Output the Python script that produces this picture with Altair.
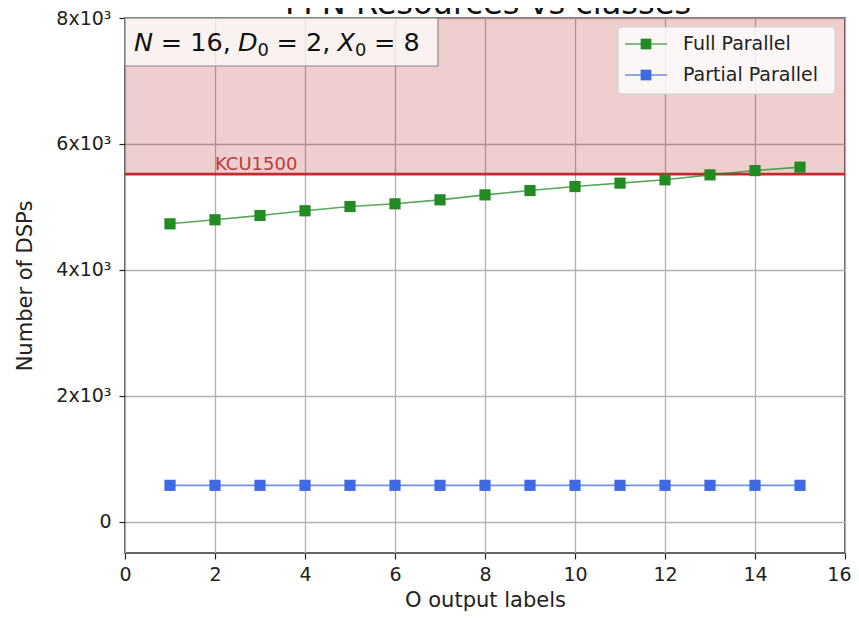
import altair as alt
import pandas as pd

# ---------------- data ----------------
o_labels = [1, 2, 3, 4, 5, 6, 7, 8, 9, 10, 11, 12, 13, 14, 15]
full_parallel = [4730, 4794, 4862, 4937, 5005, 5048, 5111, 5190, 5259, 5322, 5376, 5429, 5508, 5576, 5630]
partial_parallel = [575, 575, 575, 575, 575, 575, 575, 575, 575, 575, 575, 575, 575, 575, 575]
series_names = ["Full Parallel", "Partial Parallel"]
series_colors = ["#228b22", "#4169e1"]
kcu_limit = 5520
kcu_label = "KCU1500"
kcu_label_x = 2
y_domain = [-500, 8000]
x_domain = [0, 16]
x_ticks = [0, 2, 4, 6, 8, 10, 12, 14, 16]
y_ticks = [0, 2000, 4000, 6000, 8000]
title_text = "FFN Resources vs classes"
x_title = "O output labels"
y_title = "Number of DSPs"

# ---------------- layout ----------------
W, H = 720, 535
FONT = "DejaVu Sans"
TXT = "#222222"

df = pd.DataFrame({
    "O": o_labels + o_labels,
    "dsp": full_parallel + partial_parallel,
    "series": [series_names[0]] * len(o_labels) + [series_names[1]] * len(o_labels),
})

xs = alt.Scale(domain=x_domain, nice=False, zero=False)
ys = alt.Scale(domain=y_domain, nice=False, zero=False)

x_axis = alt.Axis(values=x_ticks, title=x_title, grid=True, gridColor="#b0b0b0", gridWidth=1.3,
                  domain=False, ticks=True, tickSize=6, tickColor=TXT, tickWidth=1.2,
                  labelFontSize=19, labelFont=FONT, labelColor=TXT, labelPadding=6,
                  labelAlign={"condition": {"test": "datum.value == 16", "value": "right"}, "value": "center"},
                  labelOffset={"condition": {"test": "datum.value == 16", "value": 6}, "value": 0},
                  titleFontSize=21, titleFont=FONT, titleColor=TXT, titleFontWeight="normal",
                  titlePadding=5, labelFlush=False)
y_axis = alt.Axis(values=y_ticks, title=y_title, grid=True, gridColor="#b0b0b0", gridWidth=1.3,
                  domain=False, ticks=True, tickSize=6, tickColor=TXT, tickWidth=1.2,
                  labelFontSize=19, labelFont=FONT, labelColor=TXT, labelPadding=8,
                  labelExpr="datum.value == 0 ? '0' : (datum.value / 1000) + 'x10\u00b3'",
                  titleFontSize=21, titleFont=FONT, titleColor=TXT, titleFontWeight="normal",
                  titlePadding=20, labelFlush=False)

color = alt.Color("series:N", scale=alt.Scale(domain=series_names, range=series_colors), legend=None)

span_df = pd.DataFrame({"lo": [kcu_limit], "hi": [y_domain[1]]})
label_df = pd.DataFrame({"x": [kcu_label_x], "lo": [kcu_limit], "label": [kcu_label]})
one = pd.DataFrame({"a": [0]})

shade = alt.Chart(span_df).mark_rect(color="#b22222", opacity=0.22).encode(
    x=alt.value(0), x2=alt.value(W),
    y=alt.Y("lo:Q", scale=ys, axis=y_axis), y2="hi:Q")

kline = alt.Chart(span_df).mark_rule(color="#c8282d", strokeWidth=2.6).encode(
    y=alt.Y("lo:Q", scale=ys, axis=y_axis))

ktext = alt.Chart(label_df).mark_text(align="left", baseline="alphabetic", dy=-4, fontSize=18,
                                      font=FONT, color="#c0393b").encode(
    x=alt.X("x:Q", scale=xs, axis=x_axis), y=alt.Y("lo:Q", scale=ys, axis=y_axis), text="label:N")

lines = alt.Chart(df).mark_line(strokeWidth=1.6, opacity=0.75).encode(
    x=alt.X("O:Q", scale=xs, axis=x_axis), y=alt.Y("dsp:Q", scale=ys, axis=y_axis), color=color,
    detail="series:N")

points = alt.Chart(df).mark_square(size=125, opacity=1, filled=True).encode(
    x=alt.X("O:Q", scale=xs, axis=x_axis), y=alt.Y("dsp:Q", scale=ys, axis=y_axis), color=color)

# annotation box  N = 16, D0 = 2, X0 = 8
ann_box = alt.Chart(one).mark_rect(fill="white", fillOpacity=0.72, stroke="#8a8a8a", strokeWidth=1.2).encode(
    x=alt.value(0), x2=alt.value(313), y=alt.value(0), y2=alt.value(48))

pieces = [("N", "italic", 1.0), (" = 16, ", "normal", 1.0), ("D", "italic", 1.0), ("0", "normal", 0.7),
          (" = 2, ", "normal", 1.0), ("X", "italic", 1.0), ("0", "normal", 0.7), (" = 8", "normal", 1.0)]
adv = {"N": .748, " ": .30, "=": .838, "1": .636, "6": .636, ",": .318, "D": .770, "0": .636,
       "2": .636, "X": .685, "8": .636}
fs = 25.5
cx = 9
ann_layers = []
for txt, style, scl in pieces:
    size = fs * scl
    dy = 5 if scl < 1 else 0
    lead = len(txt) - len(txt.lstrip(" "))
    shown = txt.strip(" ")
    ann_layers.append(
        alt.Chart(one).mark_text(align="left", baseline="alphabetic", fontSize=size, font=FONT,
                                 fontStyle=style, color="#111111", dy=dy).encode(
            x=alt.value(cx + lead * adv[" "] * size), y=alt.value(33), text=alt.value(shown)))
    cx += sum(adv[c] for c in txt) * size

# custom legend
leg_layers = [alt.Chart(one).mark_rect(fill="white", fillOpacity=0.82, stroke="#d0d0d0",
                                       strokeWidth=1, cornerRadius=4).encode(
    x=alt.value(493), x2=alt.value(710), y=alt.value(9), y2=alt.value(76))]
for i, (name, col) in enumerate(zip(series_names, series_colors)):
    yy = 26 + 31 * i
    leg_layers.append(alt.Chart(one).mark_rule(color=col, strokeWidth=1.6, opacity=0.75).encode(
        x=alt.value(500), x2=alt.value(542), y=alt.value(yy)))
    leg_layers.append(alt.Chart(one).mark_square(size=115, color=col, filled=True, opacity=1).encode(
        x=alt.value(521), y=alt.value(yy)))
    leg_layers.append(alt.Chart(one).mark_text(align="left", baseline="middle", fontSize=19, font=FONT,
                                               color=TXT).encode(
        x=alt.value(558), y=alt.value(yy), text=alt.value(name)))

title = alt.Chart(one).mark_text(align="center", baseline="alphabetic", fontSize=32, font=FONT,
                                 color="#111111").encode(
    x=alt.value(363), y=alt.value(-4), text=alt.value(title_text))

chart = alt.layer(shade, kline, ktext, lines, points, ann_box, *ann_layers, *leg_layers, title).properties(
    width=W, height=H,
    padding={"left": 117, "top": 10, "right": 6, "bottom": 59},
    autosize=alt.AutoSizeParams(type="none"),
).configure_view(stroke="#333333", strokeWidth=1.6)

chart.save("out.html", embed_options={"renderer": "svg", "actions": False})
